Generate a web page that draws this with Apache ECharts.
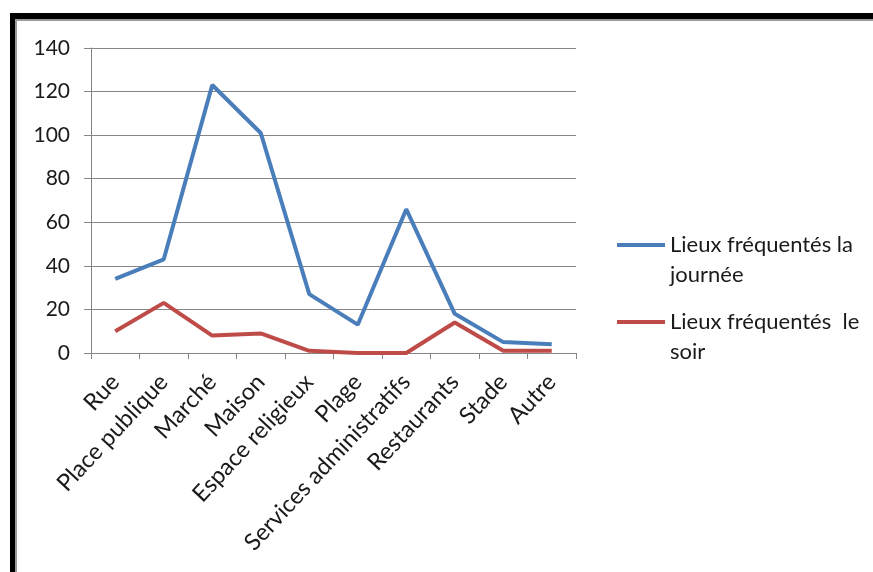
<!DOCTYPE html>
<html>
<head>
<meta charset="utf-8">
<script src="https://cdn.jsdelivr.net/npm/echarts@6/dist/echarts.min.js"></script>
<style>
html,body{margin:0;padding:0;background:#fff;}
#chart{width:873px;height:572px;}
</style>
</head>
<body>
<div id="chart"></div>
<script>
const categories = ["Rue","Place publique","Marché","Maison","Espace religieux","Plage","Services administratifs","Restaurants","Stade","Autre"];
const seriesNames = ["Lieux fréquentés la\njournée","Lieux fréquentés  le\nsoir"];
const dayValues = [34, 43, 123, 101, 27, 13, 66, 18, 5, 4];
const eveningValues = [10, 23, 8, 9, 1, 0, 0, 14, 1, 1];
const yTicks = [0, 20, 40, 60, 80, 100, 120, 140];

const FONT = 'Lato, "Open Sans", sans-serif';
const chart = echarts.init(document.getElementById('chart'), null, {renderer:'canvas'});
chart.setOption({
  backgroundColor: '#fff',
  animation: false,
  grid: {left: 91, right: 297, top: 48, bottom: 219, containLabel: false},
  graphic: [
    {type:'rect', shape:{x:10, y:13, width:863, height:6}, style:{fill:'#000'}},
    {type:'rect', shape:{x:15, y:19, width:858, height:2}, style:{fill:'#9a9a9a'}},
    {type:'rect', shape:{x:10, y:13, width:5, height:559}, style:{fill:'#000'}},
    {type:'rect', shape:{x:15, y:19, width:2, height:553}, style:{fill:'#9a9a9a'}}
  ],
  legend: {
    orient: 'vertical',
    left: 612,
    top: 195,
    itemWidth: 48,
    itemHeight: 4,
    itemGap: -13,
    icon: 'rect',
    formatter: name => '\n' + name,
    textStyle: {fontFamily: FONT, fontSize: 22, color: '#1a1a1a', lineHeight: 30},
    data: seriesNames
  },
  xAxis: {
    type: 'category',
    data: categories,
    boundaryGap: true,
    axisLine: {lineStyle: {color: '#868686', width: 1}},
    axisTick: {show: true, length: 6, lineStyle: {color: '#868686'}},
    axisLabel: {rotate: 47, interval: 0, fontFamily: FONT, fontSize: 23.5, color: '#1a1a1a', margin: 25}
  },
  yAxis: {
    type: 'value',
    min: 0, max: 140, interval: 20,
    axisLine: {show: true, lineStyle: {color: '#868686', width: 1}},
    axisTick: {show: true, length: 7, lineStyle: {color: '#868686'}},
    splitLine: {lineStyle: {color: '#868686', width: 1}},
    axisLabel: {fontFamily: FONT, fontSize: 21, color: '#1a1a1a', margin: 21,
      formatter: v => yTicks.includes(v) ? String(v) : ''}
  },
  series: [
    {name: seriesNames[0], type: 'line', data: dayValues, symbol: 'none',
     lineStyle: {color: '#4A7EBB', width: 4}, itemStyle: {color: '#4A7EBB'}},
    {name: seriesNames[1], type: 'line', data: eveningValues, symbol: 'none',
     lineStyle: {color: '#BE4B48', width: 4}, itemStyle: {color: '#BE4B48'}}
  ]
});
</script>
</body>
</html>
